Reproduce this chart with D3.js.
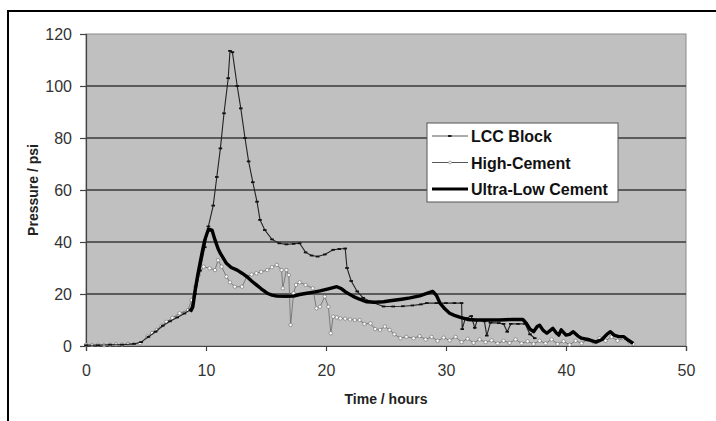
<!DOCTYPE html>
<html>
<head>
<meta charset="utf-8">
<script src="https://cdn.jsdelivr.net/npm/d3@7"></script>
<style>
  body { margin: 0; background: #fff; }
  svg text { font-family: "Liberation Sans", Arial, sans-serif; }
  .tick-label { fill: #333; }
  .axis-title { font-size: 14px; font-weight: bold; fill: #222; }
  .legend-text { font-size: 16px; font-weight: bold; fill: #111; }
</style>
</head>
<body>
<div id="chart"></div>
<script>
const width = 716;
const height = 421;

// [time in hours, pressure in psi]
const lccBlock = [
  [0,0.3],[1,0.3],[2,0.5],[3,0.5],[4,0.8],[4.6,1.5],[5.2,3.5],[5.8,5.5],[6.4,7.8],[7,9.5],
  [7.6,11],[8.2,12.5],[8.7,14],[9.1,20],[9.5,29],[9.9,38],[10.2,46],[10.6,54],[10.9,65],
  [11.2,76],[11.5,89.5],[11.85,103],[12.0,113.5],[12.2,113],[12.6,100],[12.9,91.4],
  [13.25,80],[13.55,71],[13.9,63],[14.25,55.5],[14.5,48.5],[14.9,44.6],[15.5,41],
  [16.1,39.5],[16.7,39.1],[17.3,39.3],[17.8,39.5],[18.3,36],[18.8,34.8],[19.3,34.4],
  [19.9,35.2],[20.6,37],[21.1,37.3],[21.6,37.5],[21.75,30],[22.1,25],[22.6,21],[23.1,18.5],
  [24,16.5],[24.8,15.2],[25.6,15.2],[26.4,15.3],[27.2,15.6],[27.9,16],[28.4,16.5],
  [29.2,16.5],[30,16.5],[30.7,16.5],[31.3,16.5],[31.35,6.5],[31.6,10.5],[32.1,11.5],
  [32.4,7],[32.6,10],[33.2,9.5],[33.4,4],[33.7,9],[34.4,8.8],[34.8,8.5],[35.1,5.5],
  [35.4,8.5],[36.0,8.5],[36.6,8.5],[37.0,4.5],[37.4,3]
];

const highCement = [
  [0,0.5],[0.5,0.4],[1,0.5],[1.5,0.3],[2,0.5],[2.5,0.6],[3,0.5],[3.5,0.8],[4,0.7],[4.5,1],
  [5.1,3.6],[5.5,5],[5.9,6.2],[6.3,7.8],[6.7,9.3],[7.2,10.8],[7.8,12.6],[8.5,13.8],
  [8.8,17.7],[9.1,22.8],[9.4,27.3],[9.8,30.5],[10.3,29.9],[10.75,29.2],[11.0,33],
  [11.3,30.5],[11.7,26.7],[12.0,24.5],[12.4,22.8],[13.0,22.8],[13.4,26.7],[13.8,27.5],
  [14.2,28],[14.6,28.5],[15.1,29.2],[15.5,30.3],[15.9,31.2],[16.3,29.2],[16.4,22.2],
  [16.7,29.2],[16.9,27.3],[17.05,8.1],[17.3,20.3],[17.5,23.5],[17.8,24.5],[18.3,23.5],
  [18.9,22.2],[19.2,14.5],[19.5,15.1],[19.9,19],[20.2,15.1],[20.4,4.9],[20.6,11.3],
  [20.9,11],[21.2,10.6],[21.6,10.5],[22,10.2],[22.4,10],[22.8,10],[23.2,8.5],[23.7,8.7],
  [24.1,6.5],[24.5,6.2],[24.9,7.5],[25.3,6.2],[25.7,4.5],[26.2,3],[26.7,3.5],[27.3,3],
  [27.8,3.8],[28.3,2.5],[28.8,3.5],[29.3,2],[29.8,3.2],[30.3,2.2],[30.8,3.5],[31.3,1.5],
  [31.8,2.8],[32.3,1.2],[32.8,2.5],[33.3,1.5],[33.8,2.2],[34.3,1],[34.8,2],[35.3,1.2],
  [35.8,2.5],[36.3,1],[36.8,1.8],[37.3,0.8],[37.8,2],[38.3,1],[38.8,2.5],[39.3,0.8],
  [39.8,1.8],[40.3,0.5],[40.8,2],[41.3,1],[41.8,2.5],[42.3,1.5],[42.8,3],[43.3,2],
  [43.8,3.5],[44.3,2],[44.8,3],[45.3,1.5],[45.6,0.8]
];

const ultraLowCement = [
  [8.7,13.2],[8.9,15],[9.1,21.5],[9.3,27],[9.5,31.8],[9.7,36.5],[9.9,40.8],[10.2,44.9],
  [10.5,44.6],[10.75,40.8],[11.0,37.5],[11.2,35.6],[11.7,31.8],[12.1,30.2],[12.6,29.2],
  [13.0,28],[13.4,26.7],[13.8,25],[14.2,23.5],[14.6,22],[15.1,20.3],[15.5,19.6],[15.9,19.2],
  [16.6,19.1],[17.3,19.2],[17.8,19.8],[18.4,20.3],[19.0,20.7],[19.5,21.2],[20.2,22],
  [20.9,22.8],[21.3,22],[21.6,20.9],[22.3,19],[22.8,18],[23.4,17],[24.1,16.8],[24.8,17],
  [25.5,17.5],[26.3,18],[27,18.5],[27.8,19.3],[28.4,20.2],[28.9,21],[29.2,19.5],[29.5,16.5],
  [29.9,14.3],[30.3,12.6],[30.7,11.8],[31.2,11],[31.8,10.2],[32.5,10],[33.5,10],[34.5,10],
  [35.5,10.2],[36.4,10.2],[36.7,8.7],[37.0,6.5],[37.3,5.5],[37.6,7.5],[37.8,8],[38.1,6],
  [38.4,4.9],[38.9,6.8],[39.2,5],[39.4,4.2],[39.6,6.2],[40,4.2],[40.3,4.5],[40.6,5.5],
  [41,3.8],[41.3,3],[41.7,2.6],[42,2.3],[42.5,1.5],[43,2.5],[43.4,4.5],[43.7,5.5],[44,4.2],
  [44.4,3.6],[44.8,3.6],[45.2,2.2],[45.6,1]
];

const xTicks = [0, 10, 20, 30, 40, 50];
const yTicks = [0, 20, 40, 60, 80, 100, 120];
const seriesNames = ["LCC Block", "High-Cement", "Ultra-Low Cement"];

const plot = { left: 86, right: 686, top: 34, bottom: 346 };

const svg = d3.select("#chart").append("svg")
    .attr("width", width)
    .attr("height", height);

// outer frame (right and bottom edges fall outside the picture)
svg.append("rect")
    .attr("x", 8).attr("y", 11)
    .attr("width", 730).attr("height", 430)
    .attr("fill", "none")
    .attr("stroke", "#000")
    .attr("stroke-width", 2);

const xScale = d3.scaleLinear().domain([0, 50]).range([plot.left, plot.right]);
const yScale = d3.scaleLinear().domain([0, 120]).range([plot.bottom, plot.top]);

// plot background
svg.append("rect")
    .attr("x", plot.left).attr("y", plot.top)
    .attr("width", plot.right - plot.left)
    .attr("height", plot.bottom - plot.top)
    .attr("fill", "#c0c0c0")
    .attr("stroke", "#8a8a8a")
    .attr("stroke-width", 1);

// gridlines
svg.selectAll(".grid")
    .data(yTicks.filter(d => d > 0 && d < 120))
    .enter().append("line")
    .attr("x1", plot.left).attr("x2", plot.right)
    .attr("y1", d => yScale(d)).attr("y2", d => yScale(d))
    .attr("stroke", "#3a3a3a")
    .attr("stroke-width", 1.3);

// axes
const yaxis = d3.axisLeft(yScale).tickValues(yTicks).tickSize(6).tickPadding(8);
const xaxis = d3.axisBottom(xScale).tickValues(xTicks).tickSize(5).tickPadding(14);

const gy = svg.append("g")
    .attr("transform", "translate(" + plot.left + ",0)")
    .call(yaxis);
const gx = svg.append("g")
    .attr("transform", "translate(0," + plot.bottom + ")")
    .call(xaxis);

[gx, gy].forEach(function(g) {
    g.select(".domain").attr("stroke", "#444").attr("stroke-width", 1.2);
    g.selectAll(".tick line").attr("stroke", "#444").attr("stroke-width", 1.2);
    g.selectAll(".tick text")
        .attr("class", "tick-label")
        .style("font-size", "16px")
        .style("font-family", "Liberation Sans, Arial, sans-serif");
});

// axis titles
svg.append("text")
    .attr("class", "axis-title")
    .attr("x", (plot.left + plot.right) / 2)
    .attr("y", 404)
    .attr("text-anchor", "middle")
    .text("Time / hours");

svg.append("text")
    .attr("class", "axis-title")
    .attr("transform", "translate(38," + ((plot.top + plot.bottom) / 2) + ") rotate(-90)")
    .attr("text-anchor", "middle")
    .text("Pressure / psi");

const line = d3.line()
    .x(d => xScale(d[0]))
    .y(d => yScale(d[1]));

// High-Cement: thin grey line, small open dots
svg.append("path")
    .attr("d", line(highCement))
    .attr("fill", "none")
    .attr("stroke", "#6a6a6a")
    .attr("stroke-width", 0.8);

svg.selectAll(".hc-pt")
    .data(highCement)
    .enter().append("circle")
    .attr("cx", d => xScale(d[0]))
    .attr("cy", d => yScale(d[1]))
    .attr("r", 1.7)
    .attr("fill", "#fff")
    .attr("stroke", "#666")
    .attr("stroke-width", 0.6);

// LCC Block: thin dark line with dash markers
svg.append("path")
    .attr("d", line(lccBlock))
    .attr("fill", "none")
    .attr("stroke", "#222")
    .attr("stroke-width", 1.1);

svg.selectAll(".lcc-pt")
    .data(lccBlock)
    .enter().append("rect")
    .attr("x", d => xScale(d[0]) - 1.8)
    .attr("y", d => yScale(d[1]) - 0.9)
    .attr("width", 3.6)
    .attr("height", 1.8)
    .attr("fill", "#111");

// Ultra-Low Cement: thick black line
svg.append("path")
    .attr("d", line(ultraLowCement))
    .attr("fill", "none")
    .attr("stroke", "#000")
    .attr("stroke-width", 3.4)
    .attr("stroke-linejoin", "round");

// legend
const legend = svg.append("g").attr("transform", "translate(427,123)");
legend.append("rect")
    .attr("width", 191).attr("height", 79)
    .attr("fill", "#fff")
    .attr("stroke", "#555")
    .attr("stroke-width", 1);

const rows = legend.selectAll(".row")
    .data(seriesNames)
    .enter().append("g")
    .attr("transform", (d, i) => "translate(0," + (13 + i * 26.5) + ")");

rows.append("line")
    .attr("x1", 5).attr("x2", 41)
    .attr("y1", 0).attr("y2", 0)
    .attr("stroke", (d, i) => i === 2 ? "#000" : "#444")
    .attr("stroke-width", (d, i) => i === 2 ? 3.2 : 0.9);

rows.filter((d, i) => i === 0).append("rect")
    .attr("x", 21).attr("y", -0.9).attr("width", 3.6).attr("height", 1.8)
    .attr("fill", "#111");

rows.filter((d, i) => i === 1).append("circle")
    .attr("cx", 23).attr("cy", 0).attr("r", 1.4)
    .attr("fill", "#fff").attr("stroke", "#777").attr("stroke-width", 0.6);

rows.append("text")
    .attr("class", "legend-text")
    .attr("x", 44)
    .attr("y", 6)
    .text(d => d);
</script>
</body>
</html>
